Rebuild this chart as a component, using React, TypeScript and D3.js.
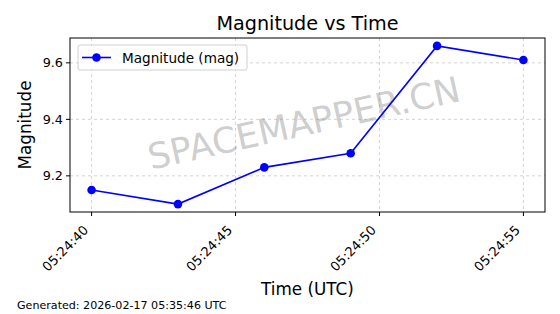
import React from "react";
import * as d3 from "d3";

const times = ["05:24:40", "05:24:43", "05:24:46", "05:24:49", "05:24:52", "05:24:55"];
const magnitudes = [9.15, 9.10, 9.23, 9.28, 9.66, 9.61];
const yTicks = [9.2, 9.4, 9.6];
const xTickLabels = ["05:24:40", "05:24:45", "05:24:50", "05:24:55"];
const DAY = "2026-02-17";

const W = 560, H = 314;
const M = { left: 70, right: 545, top: 38, bottom: 212 };
const FONT = "DejaVu Sans, sans-serif";

const toDate = (t: string) => new Date(`${DAY}T${t}Z`);

export default function App() {
  const dates = times.map(toDate);
  const [t0, t1] = d3.extent(dates) as [Date, Date];
  const span = +t1 - +t0;
  const x = d3.scaleUtc()
    .domain([new Date(+t0 - span * 0.05), new Date(+t1 + span * 0.05)])
    .range([M.left, M.right]);
  const [v0, v1] = d3.extent(magnitudes) as [number, number];
  const vs = v1 - v0;
  const y = d3.scaleLinear()
    .domain([v0 - vs * 0.05, v1 + vs * 0.05])
    .range([M.bottom, M.top]);

  const line = d3.line<number>()
    .x((_, i) => x(dates[i]))
    .y((d) => y(d));

  const xTicks = xTickLabels.map(toDate);
  const fmt = d3.utcFormat("%H:%M:%S");
  const cx = (M.left + M.right) / 2;
  const cy = (M.top + M.bottom) / 2;
  const wmX = 304, wmY = 123;

  return (
    <svg width={W} height={H} style={{ position: "absolute", left: 0, top: 0, background: "#fff" }} fontFamily={FONT}>
      <rect x={0} y={0} width={W} height={H} fill="#fff" />
      {/* grid */}
      {xTicks.map((d, i) => (
        <line key={"gx" + i} x1={x(d)} x2={x(d)} y1={M.top} y2={M.bottom} stroke="#b0b0b0" strokeOpacity={0.7} strokeWidth={0.8} strokeDasharray="3,3" />
      ))}
      {yTicks.map((v, i) => (
        <line key={"gy" + i} x1={M.left} x2={M.right} y1={y(v)} y2={y(v)} stroke="#b0b0b0" strokeOpacity={0.7} strokeWidth={0.8} strokeDasharray="3,3" />
      ))}
      {/* watermark */}
      <text x={wmX} y={wmY} transform={`rotate(-12.5, ${wmX}, ${wmY})`} textAnchor="middle" dominantBaseline="central" fontSize={35.5} fill="#808080" fillOpacity={0.4}>
        SPACEMAPPER.CN
      </text>
      {/* line */}
      <path d={line(magnitudes) || ""} fill="none" stroke="#0000ff" strokeWidth={1.6} />
      {magnitudes.map((v, i) => (
        <circle key={"p" + i} cx={x(dates[i])} cy={y(v)} r={4.3} fill="#0000ff" />
      ))}
      {/* frame */}
      <rect x={M.left} y={M.top} width={M.right - M.left} height={M.bottom - M.top} fill="none" stroke="#000" strokeWidth={1} />
      {/* y ticks */}
      {yTicks.map((v, i) => (
        <g key={"yt" + i}>
          <line x1={M.left - 4} x2={M.left} y1={y(v)} y2={y(v)} stroke="#000" />
          <text x={M.left - 7} y={y(v)} textAnchor="end" dominantBaseline="central" fontSize={12.8}>{v.toFixed(1)}</text>
        </g>
      ))}
      {/* x ticks */}
      {xTicks.map((d, i) => {
        const ax = x(d) - 2.5, ay = M.bottom + 19;
        return (
          <g key={"xt" + i}>
            <line x1={x(d)} x2={x(d)} y1={M.bottom} y2={M.bottom + 4} stroke="#000" />
            <text x={ax} y={ay} transform={`rotate(-45, ${ax}, ${ay})`} textAnchor="end" fontSize={13}>{fmt(d)}</text>
          </g>
        );
      })}
      {/* title & labels */}
      <text x={cx} y={30} textAnchor="middle" fontSize={19.2}>Magnitude vs Time</text>
      <text x={cx} y={295} textAnchor="middle" fontSize={16.8}>Time (UTC)</text>
      <text transform={`translate(31, ${cy}) rotate(-90)`} textAnchor="middle" fontSize={16.8}>Magnitude</text>
      {/* legend */}
      <g>
        <rect x={78} y={45} width={169} height={25} rx={2} fill="#fff" fillOpacity={0.8} stroke="#d0d0d0" />
        <line x1={82} x2={111} y1={57.5} y2={57.5} stroke="#0000ff" strokeWidth={1.6} />
        <circle cx={96.5} cy={57.5} r={4.3} fill="#0000ff" />
        <text x={122} y={57.5} dominantBaseline="central" fontSize={13.6}>Magnitude (mag)</text>
      </g>
      {/* footer */}
      <text x={17} y={309} fontSize={11.1}>Generated: 2026-02-17 05:35:46 UTC</text>
    </svg>
  );
}
